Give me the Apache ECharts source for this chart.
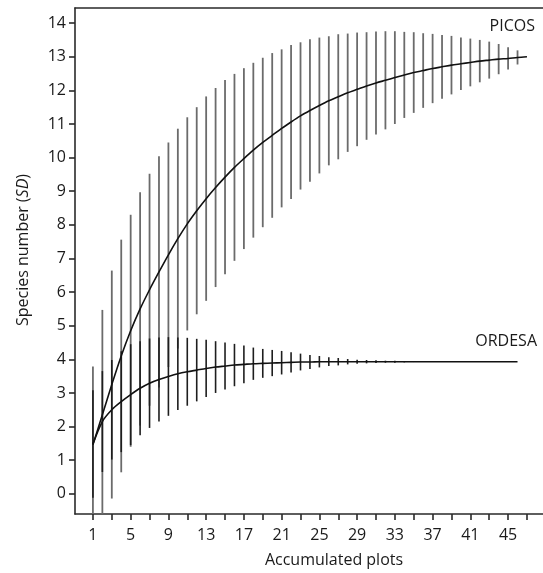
<!DOCTYPE html>
<html>
<head>
<meta charset="utf-8">
<script src="https://cdn.jsdelivr.net/npm/echarts@6/dist/echarts.min.js"></script>
<style>
html,body{margin:0;padding:0;background:#fff;}
#chart{width:543px;height:573px;}
</style>
</head>
<body>
<div id="chart"></div>
<script>
// Accumulated plots (x)
const picosPlots = [1,2,3,4,5,6,7,8,9,10,11,12,13,14,15,16,17,18,19,20,21,22,23,24,25,26,27,28,29,30,31,32,33,34,35,36,37,38,39,40,41,42,43,44,45,46,47];
const ordesaPlots = [1,2,3,4,5,6,7,8,9,10,11,12,13,14,15,16,17,18,19,20,21,22,23,24,25,26,27,28,29,30,31,32,33,34,35,36,37,38,39,40,41,42,43,44,45,46];

// PICOS mean species number and SD
const picosMean = [1.46, 2.35, 3.25, 4.10, 4.85, 5.50, 6.07, 6.60, 7.11, 7.59, 8.03, 8.42, 8.78, 9.11, 9.42, 9.71, 9.97, 10.22, 10.45, 10.66, 10.87, 11.06, 11.24, 11.40, 11.55, 11.69, 11.81, 11.93, 12.03, 12.13, 12.22, 12.30, 12.38, 12.46, 12.53, 12.59, 12.65, 12.70, 12.75, 12.79, 12.83, 12.87, 12.90, 12.93, 12.95, 12.98, 13.00];
const picosSD = [2.33, 3.12, 3.39, 3.46, 3.45, 3.47, 3.45, 3.44, 3.34, 3.27, 3.17, 3.08, 3.04, 2.96, 2.89, 2.78, 2.69, 2.60, 2.52, 2.45, 2.35, 2.29, 2.19, 2.12, 2.02, 1.92, 1.86, 1.76, 1.69, 1.60, 1.53, 1.46, 1.38, 1.28, 1.20, 1.11, 1.03, 0.95, 0.87, 0.78, 0.71, 0.63, 0.55, 0.45, 0.33, 0.21, 0];

// ORDESA mean species number and SD
const ordesaMean = [1.48, 2.15, 2.50, 2.74, 2.95, 3.14, 3.29, 3.40, 3.49, 3.57, 3.63, 3.68, 3.73, 3.77, 3.80, 3.83, 3.85, 3.87, 3.88, 3.89, 3.90, 3.91, 3.92, 3.92, 3.93, 3.93, 3.93, 3.93, 3.93, 3.93, 3.93, 3.93, 3.93, 3.93, 3.93, 3.93, 3.93, 3.93, 3.93, 3.93, 3.93, 3.93, 3.93, 3.93, 3.93, 3.93];
const ordesaSD = [1.60, 1.50, 1.48, 1.50, 1.50, 1.40, 1.33, 1.25, 1.17, 1.08, 1.01, 0.93, 0.85, 0.77, 0.70, 0.63, 0.56, 0.48, 0.43, 0.39, 0.35, 0.30, 0.25, 0.21, 0.17, 0.13, 0.11, 0.08, 0.06, 0.05, 0.04, 0.03, 0.03, 0.02, 0.01, 0, 0, 0, 0, 0, 0, 0, 0, 0, 0, 0];

// Tick values
const xTickValues = [1,3,5,7,9,11,13,15,17,19,21,23,25,27,29,31,33,35,37,39,41,43,45,47];
const xLabelValues = [1,5,9,13,17,21,25,29,33,37,41,45];
const yTickValues = [0,1,2,3,4,5,6,7,8,9,10,11,12,13,14];

const FONT = '"Open Sans", "DejaVu Sans", sans-serif';
const FS = 16;

function zip3(a, b, c) { return a.map((v, i) => [v, b[i], c[i]]); }
function zip2(a, b) { return a.map((v, i) => [v, b[i]]); }

function errorBars(color, width) {
  return function (params, api) {
    const x = api.value(0), m = api.value(1), s = api.value(2);
    if (!(s > 0)) return null;
    const p1 = api.coord([x, m + s]);
    const p2 = api.coord([x, m - s]);
    return {
      type: 'line',
      shape: { x1: p1[0], y1: p1[1], x2: p2[0], y2: p2[1] },
      style: { stroke: color, lineWidth: width }
    };
  };
}

const chart = echarts.init(document.getElementById('chart'), null, { renderer: 'canvas' });

const axisLineStyle = { color: '#2a2a2a', width: 1.6 };

chart.setOption({
  animation: false,
  backgroundColor: '#ffffff',
  grid: { left: 75, right: 0, top: 8, bottom: 59, containLabel: false, outerBoundsMode: 'none' },
  xAxis: [{
    type: 'value',
    min: -0.9,
    max: 48.7,
    position: 'bottom',
    splitLine: { show: false },
    axisLine: { show: true, onZero: false, lineStyle: axisLineStyle },
    axisTick: { show: true, length: 6, lineStyle: axisLineStyle, customValues: xTickValues },
    axisLabel: { customValues: xLabelValues, margin: 13, color: '#1a1a1a', fontSize: FS, fontFamily: FONT },
    name: 'Accumulated plots',
    nameLocation: 'middle',
    nameGap: 38,
    nameTextStyle: { color: '#1a1a1a', fontSize: FS, fontFamily: FONT, padding: [0, 0, 0, 50] }
  }, {
    type: 'value',
    min: -0.9,
    max: 48.7,
    position: 'top',
    splitLine: { show: false },
    axisLine: { show: true, onZero: false, lineStyle: axisLineStyle },
    axisTick: { show: false },
    axisLabel: { show: false }
  }],
  yAxis: {
    type: 'value',
    min: -0.6,
    max: 14.45,
    splitLine: { show: false },
    axisLine: { show: true, onZero: false, lineStyle: axisLineStyle },
    axisTick: { show: true, length: 6, lineStyle: axisLineStyle, customValues: yTickValues },
    axisLabel: { customValues: yTickValues, margin: 9, color: '#1a1a1a', fontSize: FS, fontFamily: FONT },
    name: 'Species number ({i|SD})',
    nameLocation: 'middle',
    nameGap: 44,
    nameTextStyle: {
      color: '#1a1a1a', fontSize: FS, fontFamily: FONT, padding: [0, 0, 0, 22],
      rich: { i: { fontStyle: 'italic', fontSize: FS, fontFamily: FONT, color: '#1a1a1a' } }
    }
  },
  graphic: [
    { type: 'text', right: 8, top: 18, style: { text: 'PICOS', fill: '#1a1a1a', font: FS + 'px ' + FONT } },
    { type: 'text', right: 6, top: 333, style: { text: 'ORDESA', fill: '#1a1a1a', font: FS + 'px ' + FONT } }
  ],
  series: [
    {
      name: 'PICOS SD', type: 'custom', clip: true, z: 1,
      renderItem: errorBars('#6b6b6b', 1.8),
      encode: { x: 0, y: 1 },
      data: zip3(picosPlots, picosMean, picosSD)
    },
    {
      name: 'ORDESA SD', type: 'custom', clip: true, z: 2,
      renderItem: errorBars('#1e1e1e', 1.6),
      encode: { x: 0, y: 1 },
      data: zip3(ordesaPlots, ordesaMean, ordesaSD)
    },
    {
      name: 'PICOS', type: 'line', z: 3, smooth: 0.3,
      showSymbol: false, symbol: 'none',
      lineStyle: { color: '#111', width: 1.6 },
      data: zip2(picosPlots, picosMean)
    },
    {
      name: 'ORDESA', type: 'line', z: 3, smooth: 0.3,
      showSymbol: false, symbol: 'none',
      lineStyle: { color: '#111', width: 1.6 },
      data: zip2(ordesaPlots, ordesaMean)
    }
  ]
});
</script>
</body>
</html>
